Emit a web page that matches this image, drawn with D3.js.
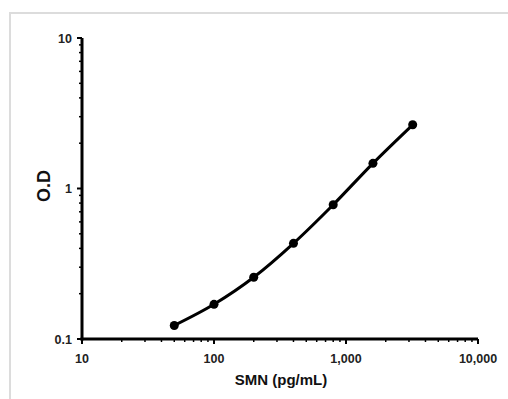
<!DOCTYPE html>
<html><head><meta charset="utf-8">
<script src="https://cdn.jsdelivr.net/npm/d3@7"></script>
<style>body{margin:0;background:#fff}svg{display:block}</style>
</head><body>
<svg id="c" width="508" height="399"></svg>
<script>
const concentrations = [50, 100, 200, 400, 800, 1600, 3200];
const odValues = [0.123, 0.17, 0.257, 0.432, 0.78, 1.47, 2.65];
const xTickLabels = ["10", "100", "1,000", "10,000"];
const xTickValues = [10, 100, 1000, 10000];
const yTickLabels = ["0.1", "1", "10"];
const yTickValues = [0.1, 1, 10];
const xTitle = "SMN (pg/mL)";
const yTitle = "O.D";

const svg = d3.select("#c");
svg.append("rect").attr("x",10).attr("y",13).attr("width",600).attr("height",500)
  .attr("fill","none").attr("stroke","#dcdcdc").attr("stroke-width",2);

const x = d3.scaleLog().domain([10,10000]).range([82,478]);
const y = d3.scaleLog().domain([0.1,10]).range([339,38]);

// minor ticks
const xMinor = [];
for (let d=10; d<10000; d*=10) for (let k=2;k<=9;k++) xMinor.push(d*k);
const yMinor = [];
for (let d=0.1; d<10; d*=10) for (let k=2;k<=9;k++) yMinor.push(d*k);

const g = svg.append("g");
g.selectAll(".xm").data(xMinor).join("line")
  .attr("x1",d=>x(d)).attr("x2",d=>x(d)).attr("y1",339).attr("y2",342)
  .attr("stroke","#000").attr("stroke-width",1.5);
g.selectAll(".ym").data(yMinor).join("line")
  .attr("y1",d=>y(d)).attr("y2",d=>y(d)).attr("x1",79).attr("x2",82)
  .attr("stroke","#000").attr("stroke-width",1.5);
g.selectAll(".xM").data(xTickValues).join("line")
  .attr("x1",d=>x(d)).attr("x2",d=>x(d)).attr("y1",339).attr("y2",344)
  .attr("stroke","#000").attr("stroke-width",2);
g.selectAll(".yM").data(yTickValues).join("line")
  .attr("y1",d=>y(d)).attr("y2",d=>y(d)).attr("x1",77).attr("x2",82)
  .attr("stroke","#000").attr("stroke-width",2);

// axis lines
g.append("line").attr("x1",82).attr("x2",82).attr("y1",y(10)).attr("y2",340.5)
  .attr("stroke","#000").attr("stroke-width",3);
g.append("line").attr("x1",80.5).attr("x2",x(10000)).attr("y1",339).attr("y2",339)
  .attr("stroke","#000").attr("stroke-width",3);

const font = "'Liberation Sans', Arial, sans-serif";
g.selectAll(".xl").data(xTickValues).join("text")
  .attr("x",d=>x(d)).attr("y",363).attr("text-anchor","middle")
  .attr("font-family",font).attr("font-weight","bold").attr("font-size",12.5)
  .attr("fill","#222").text((d,i)=>xTickLabels[i]);
g.selectAll(".yl").data(yTickValues).join("text")
  .attr("x",72).attr("y",d=>y(d)+4.5).attr("text-anchor","end")
  .attr("font-family",font).attr("font-weight","bold").attr("font-size",12.5)
  .attr("fill","#222").text((d,i)=>yTickLabels[i]);

svg.append("text").attr("x",281).attr("y",385).attr("text-anchor","middle")
  .attr("font-family",font).attr("font-weight","bold").attr("font-size",15)
  .attr("fill","#111").text(xTitle);
svg.append("text").attr("transform","translate(50,186) rotate(-90)").attr("text-anchor","middle")
  .attr("font-family",font).attr("font-weight","bold").attr("font-size",18)
  .attr("fill","#111").text(yTitle);

const line = d3.line().x((d,i)=>x(concentrations[i])).y(d=>y(d)).curve(d3.curveMonotoneX);
svg.append("path").datum(odValues).attr("d",line).attr("fill","none")
  .attr("stroke","#000").attr("stroke-width",3);
svg.selectAll(".pt").data(odValues).join("circle")
  .attr("cx",(d,i)=>x(concentrations[i])).attr("cy",d=>y(d)).attr("r",4.5).attr("fill","#000");
</script>
</body></html>
